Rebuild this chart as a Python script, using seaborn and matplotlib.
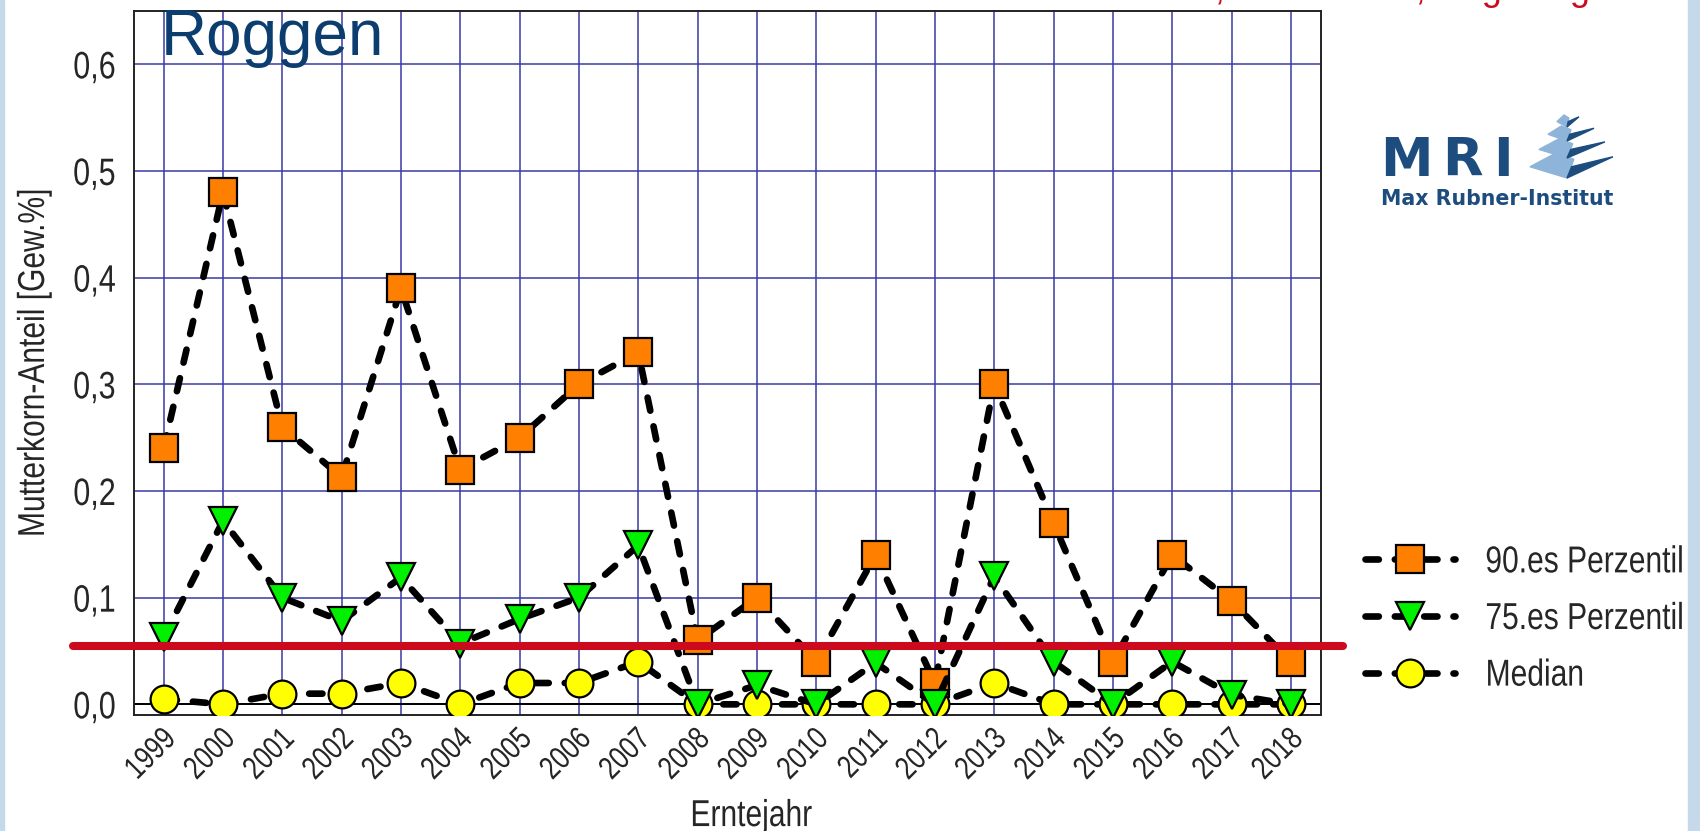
import numpy as np
import pandas as pd
import seaborn as sns
import matplotlib.pyplot as plt
from matplotlib.patches import Polygon, Rectangle
from matplotlib.ticker import FuncFormatter
from matplotlib.lines import Line2D
from matplotlib.patheffects import AbstractPathEffect
from matplotlib.transforms import Affine2D, ScaledTranslation

# data
years = list(range(1999, 2019))
p90 = [0.24, 0.48, 0.26, 0.213, 0.39, 0.22, 0.25, 0.30, 0.33, 0.06,
       0.10, 0.04, 0.14, 0.02, 0.30, 0.17, 0.04, 0.14, 0.097, 0.04]
p75 = [0.063, 0.172, 0.10, 0.078, 0.119, 0.057, 0.08, 0.10, 0.149, 0.0,
       0.018, 0.0, 0.039, 0.0, 0.12, 0.04, 0.0, 0.04, 0.009, 0.0]
median = [0.005, 0.0, 0.01, 0.01, 0.02, 0.0, 0.02, 0.02, 0.04, 0.0,
          0.0, 0.0, 0.0, 0.0, 0.02, 0.0, 0.0, 0.0, 0.0, 0.0]
series_names = ["90.es Perzentil", "75.es Perzentil", "Median"]
limit_value = 0.055

df = pd.DataFrame({"Erntejahr": years, "90.es Perzentil": p90,
                   "75.es Perzentil": p75, "Median": median})

sns.set_style("white")
plt.rcParams["font.family"] = ["Liberation Sans", "DejaVu Sans"]


class Squeeze(AbstractPathEffect):
    """Draw text narrower (the chart uses a narrow Arial)."""
    def __init__(self, sx=0.8, anchor=0.0):
        super().__init__()
        self.sx = sx
        self.anchor = anchor

    def draw_path(self, renderer, gc, tpath, affine, rgbFace=None):
        ext = tpath.get_extents()
        x0 = ext.x0 + self.anchor * ext.width
        t = Affine2D().translate(-x0, 0).scale(self.sx, 1).translate(x0, 0) + affine
        renderer.draw_path(gc, tpath, t, rgbFace)


W, H = 1700, 831
fig = plt.figure(figsize=(17, 8.31), dpi=100)
ax = fig.add_axes([134 / W, 1 - 715 / H, (1320.5 - 134) / W, (715 - 11) / H])

def fx(x):
    return x / W

def fy(y):
    return 1 - y / H

# light blue slide strips left/right
fig.patches.append(Rectangle((0, 0), fx(4), 1, transform=fig.transFigure, color="#c6d9ea", zorder=0))
fig.patches.append(Rectangle((fx(1688), 0), fx(12), 1, transform=fig.transFigure, color="#c6d9ea", zorder=0))

dash = (0, (2.0, 2.4))
styles = {
    "Median": dict(marker="o", markerfacecolor="#ffff00", zorder=3),
    "90.es Perzentil": dict(marker="s", markerfacecolor="#ff8000", zorder=4),
    "75.es Perzentil": dict(marker="v", markerfacecolor="#00f000", zorder=5),
}
for name in ["Median", "90.es Perzentil", "75.es Perzentil"]:
    st = styles[name]
    sns.lineplot(data=df, x="Erntejahr", y=name, ax=ax, color="black", lw=4.8,
                 linestyle=dash, dash_capstyle="round", marker=st["marker"],
                 markersize=20, markerfacecolor=st["markerfacecolor"],
                 markeredgecolor="black", markeredgewidth=1.6, zorder=st["zorder"])

ax.set_xlim(1998.5, 2018.5)
ax.set_ylim(-0.01, 0.65)
ax.set_xticks(years)
ax.set_xticklabels([str(y) for y in years])
ax.set_yticks([0, 0.1, 0.2, 0.3, 0.4, 0.5, 0.6])
ax.yaxis.set_major_formatter(FuncFormatter(lambda v, p: f"{v:.1f}".replace(".", ",")))

ax.grid(True, color="#3a3aa6", lw=1.1, zorder=0)
ax.set_axisbelow(True)
ax.axhline(0, color="black", lw=1.4, zorder=1)

for s in ax.spines.values():
    s.set_color("#222222")
    s.set_linewidth(1.4)

ax.tick_params(axis="y", direction="in", length=11, width=1.2, color="#444444",
               labelsize=27.5, pad=13)
ax.tick_params(axis="x", length=0, labelsize=23, pad=14)
shift = ScaledTranslation(8 / 100, 0, fig.dpi_scale_trans)
for lab in ax.get_xticklabels():
    lab.set_rotation(45)
    lab.set_ha("right")
    lab.set_va("center")
    lab.set_rotation_mode("anchor")
    lab.set_transform(lab.get_transform() + shift)
    lab.set_path_effects([Squeeze(0.8, 1.0)])
for lab in ax.get_yticklabels():
    lab.set_path_effects([Squeeze(0.8, 1.0)])

ax.set_xlabel("Erntejahr", fontsize=27, path_effects=[Squeeze(0.8, 0.5)])
ax.xaxis.set_label_coords(0.52, -0.118)
ax.set_ylabel("Mutterkorn-Anteil [Gew.%]", fontsize=27, path_effects=[Squeeze(0.8, 0.5)])
ax.yaxis.set_label_coords((52 - 134) / 1186.5, 0.5)

# red limit line across the chart
ax.axhline(limit_value, xmin=(73 - 134) / 1186.5, xmax=(1343 - 134) / 1186.5,
           color="#cc0a1e", lw=5.8, clip_on=False, zorder=10)

# title inside the chart
fig.text(fx(161), fy(55), "Roggen", fontsize=46, color="#0b3d6e",
         ha="left", va="baseline")

# slide heading, cut off at the top edge
fig.text(fx(1590), fy(-0.5), "Mutterkorn, Höchstwert, Regelung", fontsize=26,
         color="#cc0a1e", ha="right", va="baseline")

# legend
handles = [
    Line2D([], [], color="black", lw=4.8, linestyle=dash, dash_capstyle="round",
           marker=styles[n]["marker"], markersize=20,
           markerfacecolor=styles[n]["markerfacecolor"], markeredgecolor="black",
           markeredgewidth=1.6)
    for n in series_names
]
leg = fig.legend(handles, series_names, loc="center left", bbox_to_anchor=(fx(1365), fy(619)),
                 frameon=False, fontsize=27, handlelength=2.4, handletextpad=0.8,
                 labelspacing=0.55, borderpad=0, borderaxespad=0)
for t in leg.get_texts():
    t.set_path_effects([Squeeze(0.8, 0.0)])

# MRI logo
navy = "#1d4c7e"
for letter, x in [("M", 1380), ("R", 1442), ("I", 1493)]:
    fig.text(fx(x), fy(176), letter, fontsize=38, fontweight="bold", color=navy,
             family="DejaVu Sans", ha="left", va="baseline")
fig.text(fx(1381), fy(205), "Max Rubner-Institut", fontsize=14.8, fontweight="bold",
         color=navy, family="DejaVu Sans", ha="left", va="baseline")

xc = 1567
layers = [(115, 127, 10, 12), (126, 141, 19, 27), (139, 158, 28, 38), (153, 178, 37, 46)]
for yt, yb, wl, wr in layers:
    h = yb - yt
    light = [(xc - wl, yb - 0.45 * h), (xc - 0.3 * wl, yt), (xc + 0.15 * wr, yt + 0.25 * h), (xc, yb)]
    dark = [(xc, yb), (xc + wr, yt + 0.15 * h), (xc + 0.1 * wr, yb - 0.45 * h)]
    fig.patches.append(Polygon([(fx(a), fy(b)) for a, b in light], closed=True,
                               transform=fig.transFigure, color="#8fb4d9", zorder=2))
    fig.patches.append(Polygon([(fx(a), fy(b)) for a, b in dark], closed=True,
                               transform=fig.transFigure, color=navy, zorder=3))

fig.savefig("out.png", dpi=100)
